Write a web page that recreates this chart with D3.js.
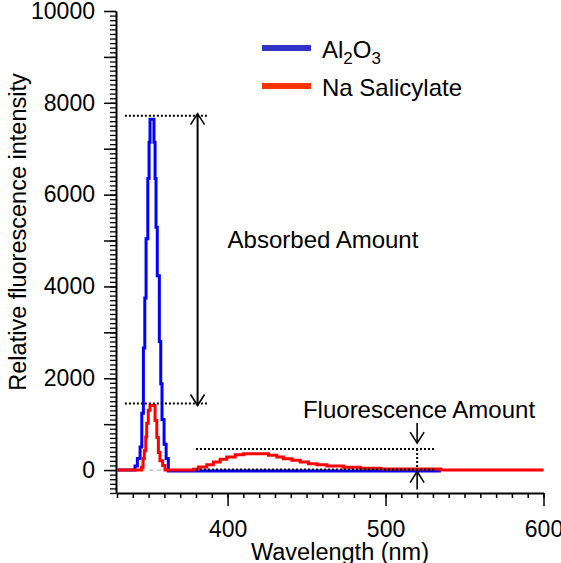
<!DOCTYPE html>
<html>
<head>
<meta charset="utf-8">
<script src="https://cdn.jsdelivr.net/npm/d3@7"></script>
<style>
  body { margin: 0; background: #fff; }
  text { font-family: "Liberation Sans", Arial, sans-serif; fill: #000; }
  .axis path, .axis line { stroke: #000; }
  .dotted { stroke: #000; stroke-width: 2; stroke-dasharray: 2,2; fill: none; }
  .arrow { stroke: #000; stroke-width: 1.6; fill: none; }
</style>
</head>
<body>
<div id="chart"></div>
<script>
// DATA (wavelength in nm where each step starts, intensity)
const al2o3Wl  = [330, 341.4, 342.9, 344.6, 345.7, 346.7, 347.6, 348.4, 349.5, 350.3, 350.9, 353.4, 354.1, 354.7, 355.5, 356.8, 357.7, 358.5, 359.8, 361.1, 362.5, 535]
const al2o3Val = [0,   90,    250,   500,   1240,  2660,  3750,  5040,  6350,  7140,  7640,  7140,  6350,  5290,  4230,  2800,  1880,  1100,  560,   250,   -20,   -20]

const naSalWl  = [330, 345.5, 346.5, 347.3, 348.2, 348.8, 349.8, 350.9, 354.1, 355.2, 356.2, 357.2, 358.9, 360.4, 378.4, 381.5, 386.8, 391, 395.3, 399.5, 404.8, 410.1, 425.9, 431.2, 435.4, 440.7, 446, 451.2, 456.6, 462.9, 473.4, 484, 497, 535, 600]
const naSalVal = [0,   60,    250,   420,   720,   1020,  1300,  1405,  1080,  710,   380,   200,   100,   0,     20,    66,    116,   175, 234,   284,   334,   356,   321,   284,   247,   212,   175, 138,   116,   87,    59,    40,  25,  0,   0]

const seriesNames  = ['Al2O3', 'Na Salicylate']
const xTickLabels  = [400, 500, 600]
const yTickLabels  = [0, 2000, 4000, 6000, 8000, 10000]

// annotation levels
const absorbLevels = [7720, 1450]   // top, bottom
const absorbSpan   = [335, 387]     // dotted line extent (nm)
const absorbArrowX = 381
const fluorLevels  = [457, 10]
const fluorSpan    = [380, 531]
const fluorArrowX  = 520

//MARGIN CONVENTION
const WIDTH = 561, HEIGHT = 563
const PLOT = { LEFT: 117, RIGHT: 543.5, TOP: 11, BOTTOM: 493 }
const FONT = 23, FONT_NOTE = 24

const svg = d3.select('#chart').append('svg')
  .attr('width', WIDTH)
  .attr('height', HEIGHT)

//SCALES
const xScale = d3.scaleLinear().domain([330, 600]).range([PLOT.LEFT, PLOT.RIGHT])
const yScale = d3.scaleLinear().domain([-500, 10000]).range([PLOT.BOTTOM, PLOT.TOP])

//AXES
const gY = svg.append('g').attr('class', 'axis')
  .attr('transform', `translate(${PLOT.LEFT - 1},0)`)
gY.call(d3.axisLeft(yScale).tickValues(d3.range(-500, 10001, 100)).tickSize(6).tickSizeOuter(0).tickFormat(''))
gY.call(g => g.selectAll('.tick line').attr('stroke-width', 1.3))
const gY2 = svg.append('g').attr('class', 'axis')
  .attr('transform', `translate(${PLOT.LEFT - 1},0)`)
gY2.call(d3.axisLeft(yScale).tickValues(d3.range(0, 10001, 1000)).tickSize(12).tickSizeOuter(0)
  .tickPadding(9).tickFormat(d => yTickLabels.includes(d) ? d : ''))
gY2.selectAll('.tick line').attr('stroke-width', 1.5)
gY2.select('.domain').attr('stroke-width', 2)
gY2.selectAll('text').attr('font-size', FONT).attr('font-family', null)

const gX = svg.append('g').attr('class', 'axis')
  .attr('transform', `translate(0,${PLOT.BOTTOM})`)
gX.call(d3.axisBottom(xScale).tickValues(d3.range(330, 601, 10)).tickSize(5).tickSizeOuter(0).tickFormat(''))
gX.selectAll('.tick line').attr('stroke-width', 1.5)
const gX2 = svg.append('g').attr('class', 'axis')
  .attr('transform', `translate(0,${PLOT.BOTTOM})`)
gX2.call(d3.axisBottom(xScale).tickValues(xTickLabels).tickSize(13).tickSizeOuter(0).tickPadding(15))
gX2.selectAll('.tick line').attr('stroke-width', 1.5)
gX2.select('.domain').attr('stroke-width', 2)
gX2.selectAll('text').attr('font-size', FONT).attr('font-family', null)

//LABELS
svg.append('text').text('Wavelength (nm)')
  .attr('x', 340).attr('y', 560)
  .attr('text-anchor', 'middle').attr('font-size', 23.5)
svg.append('text').text('Relative fluorescence intensity')
  .attr('transform', `translate(26,${(PLOT.TOP + PLOT.BOTTOM) / 2 - 20}) rotate(-90)`)
  .attr('text-anchor', 'middle').attr('font-size', 23.5)

// ZERO LINE
svg.append('line')
  .attr('x1', xScale(330)).attr('x2', xScale(600))
  .attr('y1', yScale(0)).attr('y2', yScale(0))
  .attr('stroke', '#bbb').attr('stroke-width', 1.3).attr('stroke-dasharray', '4,4')

// SPECTRA
const line = d3.line()
  .curve(d3.curveStepAfter)
  .x(d => xScale(d[0]))
  .y(d => yScale(d[1]))

svg.append('path')
  .attr('d', line(d3.zip(al2o3Wl, al2o3Val)))
  .attr('fill', 'none').attr('stroke', '#0000ff').attr('stroke-width', 3)
svg.append('path')
  .attr('d', line(d3.zip(naSalWl, naSalVal)))
  .attr('fill', 'none').attr('stroke', '#ff0000').attr('stroke-width', 3)

// ANNOTATIONS
function hDotted(level, span) {
  svg.append('line').attr('class', 'dotted')
    .attr('x1', xScale(span[0])).attr('x2', xScale(span[1]))
    .attr('y1', yScale(level)).attr('y2', yScale(level))
}
function arrow(x, yTail, yTip) {
  const dir = yTip > yTail ? -1 : 1
  svg.append('line').attr('class', 'arrow')
    .attr('x1', x).attr('x2', x).attr('y1', yTail).attr('y2', yTip)
  svg.append('path').attr('class', 'arrow')
    .attr('d', `M${x - 7},${yTip + dir * 11}L${x},${yTip}L${x + 7},${yTip + dir * 11}`)
}

absorbLevels.forEach(l => hDotted(l, absorbSpan))
const ax = xScale(absorbArrowX)
arrow(ax, yScale(absorbLevels[1]) + 2, yScale(absorbLevels[0]) - 2)
arrow(ax, yScale(absorbLevels[0]) - 2, yScale(absorbLevels[1]) + 2)
svg.append('text').text('Absorbed Amount')
  .attr('x', 323).attr('y', 248)
  .attr('text-anchor', 'middle').attr('font-size', FONT_NOTE)

fluorLevels.forEach(l => hDotted(l, fluorSpan))
const fx = xScale(fluorArrowX)
svg.append('line').attr('class', 'dotted')
  .attr('x1', fx).attr('x2', fx)
  .attr('y1', yScale(fluorLevels[0])).attr('y2', yScale(fluorLevels[1]))
arrow(fx, yScale(fluorLevels[0]) - 26, yScale(fluorLevels[0]) - 6)
arrow(fx, yScale(fluorLevels[1]) + 20, yScale(fluorLevels[1]) + 2)
svg.append('text').text('Fluorescence Amount')
  .attr('x', 419).attr('y', 418)
  .attr('text-anchor', 'middle').attr('font-size', FONT_NOTE)

// LEGEND
const legendColours = ['#3333cc', '#ff3300']
const gLegend = svg.append('g').attr('transform', 'translate(262,48)')
seriesNames.forEach((name, i) => {
  const g = gLegend.append('g').attr('transform', `translate(0,${i * 38})`)
  g.append('line').attr('x1', 0).attr('x2', 49).attr('y1', 0).attr('y2', 0)
    .attr('stroke', legendColours[i]).attr('stroke-width', 6)
  const t = g.append('text').attr('x', 60).attr('y', 10).attr('font-size', FONT_NOTE)
  if (name === 'Al2O3') {
    t.append('tspan').text('Al')
    t.append('tspan').text('2').attr('font-size', 17).attr('dy', 6)
    t.append('tspan').text('O').attr('dy', -6)
    t.append('tspan').text('3').attr('font-size', 17).attr('dy', 6)
  } else {
    t.text(name)
  }
})
</script>
</body>
</html>
